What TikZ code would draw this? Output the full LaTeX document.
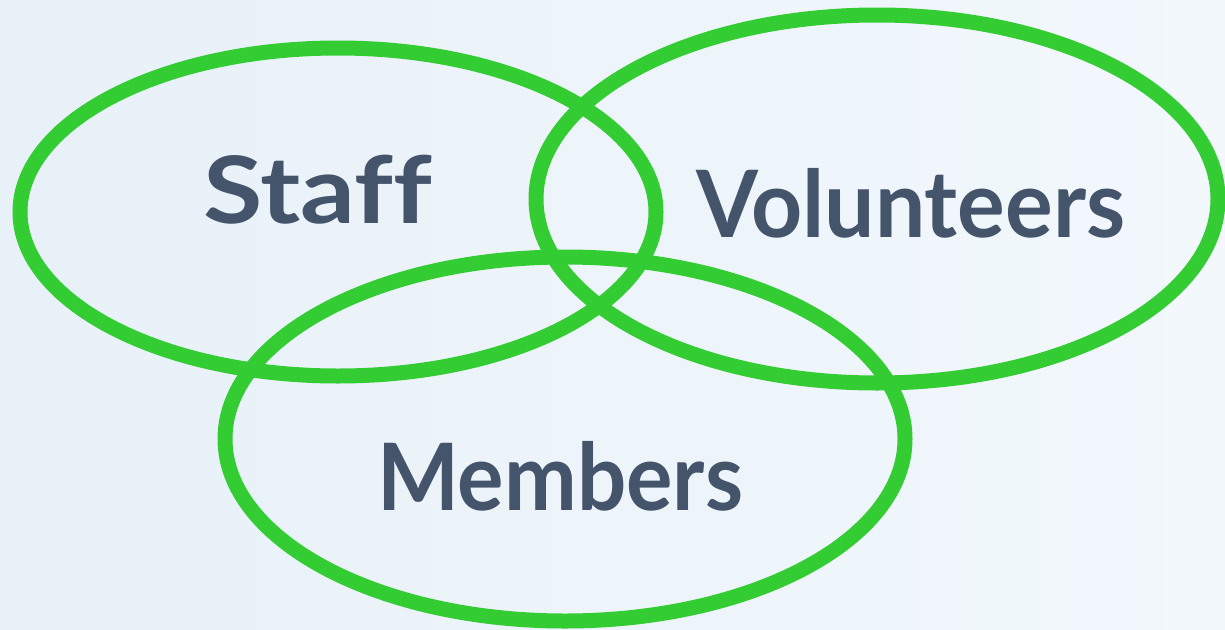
\documentclass[tikz,border=0pt]{standalone}
\usepackage{fontspec}
\setmainfont[Ligatures=NoCommon]{Lato}
\usetikzlibrary{shapes.geometric}
\definecolor{ring}{HTML}{33CC33}
\definecolor{label}{HTML}{44546A}
\definecolor{bgl}{HTML}{E8F1F8}
\definecolor{bgr}{HTML}{F2F8FC}
\newcommand{\fitw}[2]{\resizebox{#1}{\height}{#2}}
\begin{document}
\begin{tikzpicture}[x=1pt,y=-1pt,
  ring/.style={ellipse,draw=ring,line width=15pt,inner sep=0pt,outer sep=0pt},
  lab/.style={text=label,anchor=base west,inner sep=0pt,font=\bfseries\fontsize{93}{100}\selectfont}]
\useasboundingbox (0,0) rectangle (1225,629);
\shade[left color=bgl,right color=bgr] (0,0) rectangle (1225,629);
\node[ring,minimum width=636pt,minimum height=328pt] (staff) at (338,212) {};
\node[ring,minimum width=682pt,minimum height=368pt] (vol) at (877,199) {};
\node[ring,minimum width=680pt,minimum height=364pt] (mem) at (565,439) {};
\node[lab] (tstaff) at (203,223) {\fitw{229pt}{Staff}};
\node[lab] (tvol) at (696,237) {\fitw{429pt}{Volunteers}};
\node[lab] (tmem) at (377,510) {\fitw{366pt}{Members}};
\end{tikzpicture}
\end{document}
